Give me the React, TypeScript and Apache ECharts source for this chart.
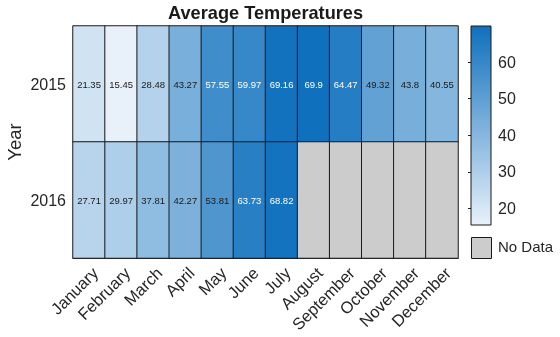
import React, { useEffect, useRef } from "react";
import * as echarts from "echarts";

const months = ["January", "February", "March", "April", "May", "June", "July", "August", "September", "October", "November", "December"];
const years = ["2015", "2016"];
const temps2015 = [21.35, 15.45, 28.48, 43.27, 57.55, 59.97, 69.16, 69.9, 64.47, 49.32, 43.8, 40.55];
const temps2016: (number | null)[] = [27.71, 29.97, 37.81, 42.27, 53.81, 63.73, 68.82, null, null, null, null, null];
const colorbarTicks = [20, 30, 40, 50, 60];

const LIGHT = "#e8f1fa";
const DARK = "#0f70bd";
const NODATA = "#cccccc";
const TEXT = "#262626";
const FONT = "Liberation Sans, Arial, sans-serif";

export default function App() {
  const ref = useRef<HTMLDivElement>(null);
  useEffect(() => {
    if (!ref.current) return;
    const chart = echarts.init(ref.current, null, { renderer: "svg" });
    const rows = [temps2015, temps2016];
    const all: number[] = [];
    rows.forEach((r) => r.forEach((v) => { if (v != null) all.push(v); }));
    const vmin = Math.min(...all);
    const vmax = Math.max(...all);
    const data: any[] = [];
    const missing: any[] = [];
    rows.forEach((r, yi) =>
      r.forEach((v, xi) => {
        if (v == null) missing.push([xi, yi, 0]);
        else
          data.push({
            value: [xi, yi, v],
            label: { color: v > 55 ? "#ffffff" : "#1a1a1a" },
          });
      })
    );
    chart.setOption({
      animation: false,
      textStyle: { fontFamily: FONT },
      title: {
        text: "Average Temperatures",
        left: 168,
        top: 4,
        padding: 0,
        textStyle: { fontSize: 18.2, fontWeight: "bold", color: "#1a1a1a", fontFamily: FONT },
      },
      grid: [
        { left: 73, top: 26, width: 385, height: 232, show: false, containLabel: false, outerBoundsMode: "none" },
        { left: 471, top: 26, width: 20, height: 199, show: false, containLabel: false, outerBoundsMode: "none" },
      ],
      xAxis: [
        {
          type: "category",
          data: months,
          gridIndex: 0,
          axisTick: { show: false },
          axisLine: { lineStyle: { color: "#222" } },
          axisLabel: {
            rotate: 45,
            fontSize: 16.5,
            color: TEXT,
            margin: 6,
            interval: 0,
            verticalAlign: "top",
            fontFamily: FONT,
          },
          splitArea: { show: false },
        },
        { type: "value", gridIndex: 1, min: 0, max: 1, show: false },
      ],
      yAxis: [
        {
          type: "category",
          data: years,
          inverse: true,
          gridIndex: 0,
          axisTick: { show: false },
          axisLine: { lineStyle: { color: "#222" } },
          axisLabel: { fontSize: 16, color: TEXT, margin: 7, fontFamily: FONT },
          name: "Year",
          nameLocation: "middle",
          nameGap: 49,
          nameMoveOverlap: false,
          nameTextStyle: { fontSize: 18.5, color: TEXT, fontFamily: FONT },
        },
        {
          type: "value",
          gridIndex: 1,
          min: vmin,
          max: vmax,
          position: "right",
          axisLine: { show: false },
          axisTick: { show: true, inside: true, length: 3, lineStyle: { color: "#222" }, customValues: colorbarTicks },
          axisLabel: { fontSize: 16, color: TEXT, margin: 7, customValues: colorbarTicks, fontFamily: FONT },
          splitLine: { show: false },
        },
      ],
      visualMap: [
        {
          type: "continuous",
          show: false,
          min: vmin,
          max: vmax,
          dimension: 2,
          seriesIndex: 0,
          inRange: { color: [LIGHT, DARK] },
        },
        {
          type: "continuous",
          show: false,
          min: 0,
          max: 1,
          dimension: 2,
          seriesIndex: 1,
          inRange: { color: [NODATA, NODATA] },
        },
      ],
      series: [
        {
          type: "heatmap",
          xAxisIndex: 0,
          yAxisIndex: 0,
          data,
          itemStyle: { borderColor: "#1a1a1a", borderWidth: 1 },
          label: {
            show: true,
            fontSize: 9.5,
            fontFamily: FONT,
            formatter: (p: any) => String(p.value[2]),
          },
        },
        {
          type: "heatmap",
          xAxisIndex: 0,
          yAxisIndex: 0,
          data: missing,
          itemStyle: { borderColor: "#1a1a1a", borderWidth: 1 },
          label: { show: false },
        },
        {
          type: "custom",
          xAxisIndex: 1,
          yAxisIndex: 1,
          data: [[0, vmin]],
          renderItem: (params: any) => {
            const cs = params.coordSys;
            return {
              type: "rect",
              shape: { x: cs.x, y: cs.y, width: cs.width, height: cs.height },
              style: {
                fill: new echarts.graphic.LinearGradient(0, 0, 0, 1, [
                  { offset: 0, color: DARK },
                  { offset: 1, color: LIGHT },
                ]),
                stroke: "#1a1a1a",
                lineWidth: 1,
              },
            };
          },
          z: 1,
        },
      ],
      graphic: [
        {
          type: "rect",
          left: 471,
          top: 237,
          shape: { width: 20, height: 21 },
          style: { fill: NODATA, stroke: "#1a1a1a", lineWidth: 1 },
        },
        {
          type: "text",
          left: 498,
          top: 239,
          style: { text: "No Data", fontSize: 15, fill: TEXT, fontFamily: FONT },
        },
      ],
    });
    return () => chart.dispose();
  }, []);
  return <div ref={ref} style={{ position: "fixed", left: 0, top: 0, width: 560, height: 337 }} />;
}
